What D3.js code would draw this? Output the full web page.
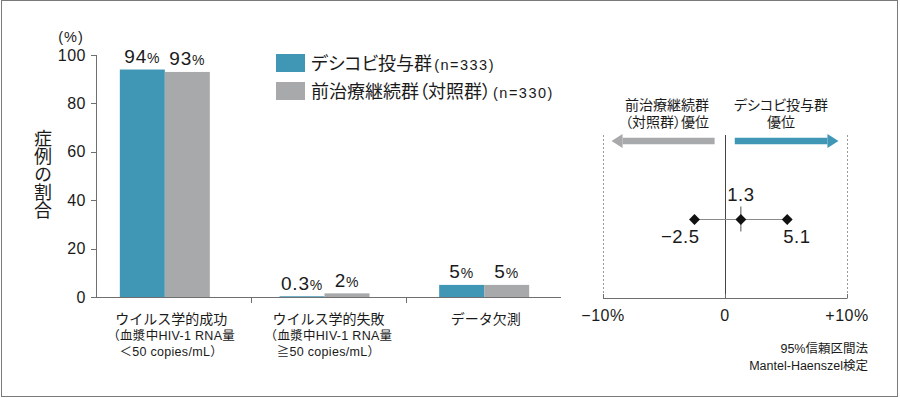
<!DOCTYPE html>
<html>
<head>
<meta charset="utf-8">
<script src="https://cdn.jsdelivr.net/npm/d3@7"></script>
<style>
  body { margin: 0; background: #fff; }
  text { font-family: "Liberation Sans", "Noto Sans CJK JP", sans-serif; fill: #1a1a1a; }
  .palt { font-feature-settings: "palt"; }
</style>
</head>
<body>
<div id="chart"></div>
<script>
// bar chart data
const categories = ['ウイルス学的成功', 'ウイルス学的失敗', 'データ欠測'];
const subLabels = [
  ['（血漿中HIV-1 RNA量', '＜50 copies/mL）'],
  ['（血漿中HIV-1 RNA量', '≧50 copies/mL）'],
  []
];
const descovyValues = [94, 0.3, 5];
const controlValues = [93, 1.5, 5];
const descovyLabels = ['94', '0.3', '5'];
const controlLabels = ['93', '2', '5'];
const yTicks = [0, 20, 40, 60, 80, 100];
const seriesNames = ['デシコビ投与群', '前治療継続群（対照群）'];
const seriesN = ['(n=333)', '(n=330)'];

// difference plot data
const diffEstimate = 1.3;
const diffLow = -2.5;
const diffHigh = 5.1;
const diffTicks = [-10, 0, 10];
const diffTickLabels = ['−10%', '0', '+10%'];

const teal = '#3f97b5';
const gray = '#a8a9ab';
const axisColor = '#6f6f6f';

const svg = d3.select('#chart').append('svg')
  .attr('width', 900).attr('height', 398);

// outer frame
svg.append('rect')
  .attr('x', 1.5).attr('y', 0.5).attr('width', 896).attr('height', 396)
  .attr('fill', 'none').attr('stroke', '#7a7a7a').attr('stroke-width', 1);

// ---- bar chart ----
const y = d3.scaleLinear().domain([0, 100]).range([297, 55]);
const xAxisBand = d3.scaleBand().domain(categories).range([96, 561]);
const xBar = d3.scaleBand().domain(categories).range([85, 564]);
const barW = 45;

// y axis
svg.append('line')
  .attr('x1', 96.5).attr('x2', 96.5).attr('y1', y(100)).attr('y2', y(0))
  .attr('stroke', axisColor);
svg.selectAll('.ytick')
  .data(yTicks)
  .enter().append('line')
  .attr('x1', 91).attr('x2', 96.5)
  .attr('y1', d => Math.round(y(d)) + 0.5).attr('y2', d => Math.round(y(d)) + 0.5)
  .attr('stroke', axisColor);
svg.selectAll('.ylabel')
  .data(yTicks)
  .enter().append('text')
  .attr('x', 86).attr('y', d => y(d) + 5.5)
  .attr('text-anchor', 'end')
  .attr('font-size', '16px')
  .attr('letter-spacing', '0.5px')
  .text(d => d);

svg.append('text')
  .attr('x', 71).attr('y', 42)
  .attr('text-anchor', 'middle')
  .attr('font-size', '14.5px')
  .attr('letter-spacing', '1px')
  .text('(%)');

// y title, vertical
svg.append('text')
  .attr('x', 41).attr('y', 129)
  .attr('font-size', '18px')
  .style('writing-mode', 'vertical-rl')
  .style('text-orientation', 'upright')
  .text('症例の割合');

// x axis
svg.append('line')
  .attr('x1', 91).attr('x2', 561).attr('y1', 297.5).attr('y2', 297.5)
  .attr('stroke', axisColor);
svg.selectAll('.sep')
  .data(categories.slice(1))
  .enter().append('line')
  .attr('x1', d => xAxisBand(d) + 0.5).attr('x2', d => xAxisBand(d) + 0.5)
  .attr('y1', 297.5).attr('y2', 303)
  .attr('stroke', axisColor);

// bars
const barCenter = d => xBar(d) + xBar.bandwidth() / 2;
svg.selectAll('.bar-d')
  .data(categories)
  .enter().append('rect')
  .attr('x', d => barCenter(d) - barW)
  .attr('y', (d, i) => y(descovyValues[i]))
  .attr('width', barW)
  .attr('height', (d, i) => y(0) - y(descovyValues[i]))
  .attr('fill', teal);
svg.selectAll('.bar-c')
  .data(categories)
  .enter().append('rect')
  .attr('x', d => barCenter(d))
  .attr('y', (d, i) => y(controlValues[i]))
  .attr('width', barW)
  .attr('height', (d, i) => y(0) - y(controlValues[i]))
  .attr('fill', gray);

// value labels
function valueLabel(cx, val, label) {
  const t = svg.append('text')
    .attr('x', cx).attr('y', y(val) - 6.5)
    .attr('text-anchor', 'middle')
    .attr('letter-spacing', '0.8px');
  t.append('tspan').attr('font-size', '19px').text(label);
  t.append('tspan').attr('font-size', '14px').text('%');
}
categories.forEach((c, i) => {
  valueLabel(barCenter(c) - barW / 2, descovyValues[i], descovyLabels[i]);
  valueLabel(barCenter(c) + barW / 2, controlValues[i], controlLabels[i]);
});

// category labels
categories.forEach((c, i) => {
  const cx = (xAxisBand(c) + xAxisBand.bandwidth() / 2 + barCenter(c)) / 2 + 2;
  svg.append('text')
    .attr('x', cx).attr('y', 324)
    .attr('text-anchor', 'middle')
    .attr('font-size', '14px')
    .text(c);
  subLabels[i].forEach((s, j) => {
    svg.append('text')
      .attr('x', cx).attr('y', 340 + j * 15.5)
      .attr('text-anchor', 'middle')
      .attr('font-size', '12.5px')
      .attr('letter-spacing', '0.3px')
      .text(s);
  });
});

// legend
const legend = svg.append('g');
seriesNames.forEach((name, i) => {
  const ly = 54 + i * 28;
  legend.append('rect')
    .attr('x', 276).attr('y', ly).attr('width', 29).attr('height', 18)
    .attr('fill', i === 0 ? teal : gray);
  const t = legend.append('text')
    .attr('class', 'palt')
    .attr('x', 311).attr('y', ly + 16);
  t.append('tspan').attr('font-size', '18px').text(name);
  t.append('tspan').attr('font-size', '14.5px').attr('dx', 2)
    .attr('letter-spacing', '1.5px').text(seriesN[i]);
});

// ---- difference plot ----
const xd = d3.scaleLinear().domain([-10, 10]).range([603, 847]);
const axisY = 298;
const topY = 135;

svg.selectAll('.dgrid')
  .data(diffTicks.filter(d => d !== 0))
  .enter().append('line')
  .attr('x1', d => Math.round(xd(d)) + 0.5).attr('x2', d => Math.round(xd(d)) + 0.5)
  .attr('y1', topY).attr('y2', axisY)
  .attr('stroke', '#9a9a9a')
  .attr('stroke-dasharray', '2,2');
svg.append('line')
  .attr('x1', Math.round(xd(0)) + 0.5).attr('x2', Math.round(xd(0)) + 0.5)
  .attr('y1', topY).attr('y2', axisY)
  .attr('stroke', '#444');
svg.append('line')
  .attr('x1', xd(-10)).attr('x2', xd(10))
  .attr('y1', axisY + 0.5).attr('y2', axisY + 0.5)
  .attr('stroke', axisColor);
svg.selectAll('.dtick')
  .data(diffTicks)
  .enter().append('line')
  .attr('x1', d => Math.round(xd(d)) + 0.5).attr('x2', d => Math.round(xd(d)) + 0.5)
  .attr('y1', axisY - 4).attr('y2', axisY + 0.5)
  .attr('stroke', axisColor);
svg.selectAll('.dlabel')
  .data(diffTicks)
  .enter().append('text')
  .attr('x', d => xd(d)).attr('y', 321)
  .attr('text-anchor', 'middle')
  .attr('font-size', '16px')
  .attr('letter-spacing', '0.5px')
  .text((d, i) => diffTickLabels[i]);

// arrows
const arrowY = 141;
function arrow(x1, x2, color) {
  const dir = Math.sign(x2 - x1);
  const headLen = 11;
  svg.append('line')
    .attr('x1', x1).attr('x2', x2 - dir * headLen)
    .attr('y1', arrowY).attr('y2', arrowY)
    .attr('stroke', color).attr('stroke-width', 6.5);
  svg.append('path')
    .attr('d', `M${x2},${arrowY} L${x2 - dir * headLen},${arrowY - 7} L${x2 - dir * headLen},${arrowY + 7} Z`)
    .attr('fill', color);
}
arrow(xd(-0.85), xd(-9.3), gray);
arrow(xd(0.8), xd(9.3), teal);

const leftLabel = ['前治療継続群', '（対照群）優位'];
const rightLabel = ['デシコビ投与群', '優位'];
leftLabel.forEach((s, i) => {
  svg.append('text')
    .attr('class', 'palt')
    .attr('x', 667).attr('y', 110 + i * 17)
    .attr('text-anchor', 'middle')
    .attr('font-size', '14px')
    .text(s);
});
rightLabel.forEach((s, i) => {
  svg.append('text')
    .attr('class', 'palt')
    .attr('x', 781).attr('y', 110 + i * 17)
    .attr('text-anchor', 'middle')
    .attr('font-size', '14px')
    .text(s);
});

// confidence interval
const ciY = 219.5;
svg.append('line')
  .attr('x1', xd(diffLow)).attr('x2', xd(diffHigh))
  .attr('y1', ciY).attr('y2', ciY)
  .attr('stroke', '#8a8a8a').attr('stroke-width', 1.2);
svg.append('line')
  .attr('x1', xd(diffEstimate)).attr('x2', xd(diffEstimate))
  .attr('y1', ciY - 13).attr('y2', ciY + 12)
  .attr('stroke', '#555');
const diamond = d3.symbol().type(d3.symbolDiamond2).size(75);
svg.selectAll('.pt')
  .data([diffLow, diffEstimate, diffHigh])
  .enter().append('path')
  .attr('d', diamond)
  .attr('transform', d => `translate(${xd(d)},${ciY})`)
  .attr('fill', '#111');

svg.append('text')
  .attr('x', xd(diffEstimate)).attr('y', 201)
  .attr('text-anchor', 'middle')
  .attr('font-size', '18.5px')
  .attr('letter-spacing', '0.5px')
  .text(diffEstimate.toFixed(1));
svg.append('text')
  .attr('x', xd(diffLow) + 5).attr('y', 243)
  .attr('text-anchor', 'end')
  .attr('font-size', '18.5px')
  .attr('letter-spacing', '0.5px')
  .text('−' + Math.abs(diffLow).toFixed(1));
svg.append('text')
  .attr('x', xd(diffHigh) - 4).attr('y', 243)
  .attr('text-anchor', 'start')
  .attr('font-size', '18.5px')
  .attr('letter-spacing', '0.5px')
  .text(diffHigh.toFixed(1));

// footnote
['95%信頼区間法', 'Mantel-Haenszel検定'].forEach((s, i) => {
  svg.append('text')
    .attr('x', 868).attr('y', 353 + i * 17)
    .attr('text-anchor', 'end')
    .attr('font-size', '12.5px')
    .text(s);
});
</script>
</body>
</html>
